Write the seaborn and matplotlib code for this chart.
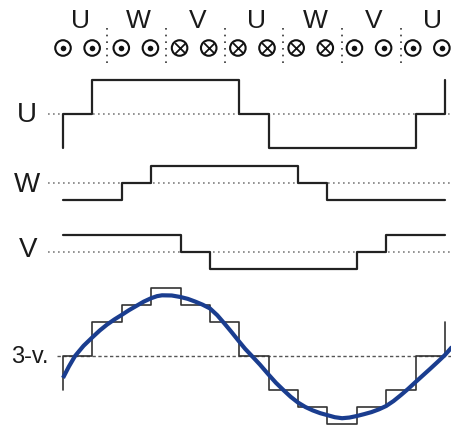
import numpy as np
import pandas as pd
import matplotlib
matplotlib.use("Agg")
import matplotlib.pyplot as plt
import seaborn as sns

sns.set_theme(style="white")
plt.rcParams['font.family'] = ['Liberation Sans', 'DejaVu Sans']

# ---- data ----
phase_labels = ["U", "W", "V", "U", "W", "V", "U"]
conductor_marks = ["dot", "dot", "dot", "dot", "cross", "cross", "cross",
                   "cross", "cross", "cross", "dot", "dot", "dot", "dot"]
u_levels = [0, 2, 2, 2, 2, 2, 0, -2, -2, -2, -2, -2, 0]
w_levels = [-1, -1, 0, 1, 1, 1, 1, 1, 0, -1, -1, -1, -1]
v_levels = [1, 1, 1, 1, 0, -1, -1, -1, -1, -1, 0, 1, 1]
u_start, u_end = -2, 2
row_labels = ["U", "W", "V", "3-v."]
sine_x = [0, 0.2, 0.41, 0.7, 1, 1.25, 1.5, 1.75, 2, 2.25, 2.5, 2.75, 3, 3.2,
          3.37, 3.7, 4, 4.25, 4.5, 4.75, 5, 5.25, 5.5, 5.75, 6, 6.2, 6.43,
          6.7, 7, 7.25, 7.5, 7.75, 8, 8.25, 8.5, 8.75, 9, 9.25, 9.5, 9.75,
          10, 10.25, 10.5, 10.75, 11, 11.25, 11.5, 11.75, 12, 12.25, 12.5,
          12.75, 13, 13.24]
sine_y = [-1.29, -0.62, 0, 0.6, 1.1, 1.5, 1.85, 2.15, 2.42, 2.7, 2.95, 3.2,
          3.4, 3.52, 3.57, 3.56, 3.47, 3.36, 3.2, 3.02, 2.8, 2.4, 1.9, 1.38,
          0.84, 0.42, 0, -0.5, -1.1, -1.58, -2.0, -2.4, -2.74, -3.0, -3.2,
          -3.36, -3.48, -3.6, -3.66, -3.62, -3.53, -3.42, -3.3, -3.14, -2.94,
          -2.65, -2.3, -1.93, -1.53, -1.14, -0.75, -0.35, 0.06, 0.53]

# ---- layout (axis units: 1 x-unit = one step, 1 y-unit = 17 px) ----
PX_STEP = 29.38
X0 = 63
W_PX, H_PX = 452, 425
def xu(px):
    return (px - X0) / PX_STEP
def yu(px):
    return -px / 17.0

base_u, base_w, base_v, base_s = yu(114), yu(183), yu(252), yu(356)

fig = plt.figure(figsize=(4.52, 4.25), dpi=100)
ax = fig.add_axes([0, 0, 1, 1])
ax.set_xlim(xu(0), xu(W_PX))
ax.set_ylim(yu(H_PX), 0)
ax.axis("off")

def stair(levels, base, start=None, end=None):
    n = len(levels)
    xs = list(range(n)) + [n]
    ys = list(levels) + [levels[-1]]
    if start is not None:
        xs = [0] + xs
        ys = [start] + ys
    if end is not None:
        xs = xs + [n]
        ys = ys + [end]
    return pd.DataFrame({"x": xs, "y": [base + v for v in ys]})

sum_levels = list(np.array(u_levels) + np.array(w_levels) + np.array(v_levels))

# baselines
for b in (base_u, base_w, base_v):
    ax.plot([xu(48), xu(W_PX)], [b, b], color="#808080", lw=1.2,
            linestyle=(0, (1, 2)), zorder=1)
ax.plot([xu(57), xu(W_PX)], [base_s, base_s], color="#555555", lw=1.0,
        linestyle=(0, (2.4, 1.8)), zorder=1)

# staircases
for df, lw, col in [
    (stair(u_levels, base_u, u_start, u_end), 1.6, "#222222"),
    (stair(w_levels, base_w), 1.6, "#222222"),
    (stair(v_levels, base_v), 1.6, "#222222"),
    (stair(sum_levels, base_s, u_start, u_end), 1.2, "#333333"),
]:
    sns.lineplot(data=df, x="x", y="y", ax=ax, estimator=None, sort=False,
                 drawstyle="steps-post", color=col, lw=lw, legend=False, zorder=2)

# sine
sdf = pd.DataFrame({"x": sine_x, "y": [base_s + v for v in sine_y]})
sns.lineplot(data=sdf, x="x", y="y", ax=ax, estimator=None, sort=False,
             color="#1a3d8f", lw=3.0, legend=False, zorder=3,
             solid_joinstyle="round", solid_capstyle="butt")

# row labels
txt_col = "#1a1a1a"
ax.text(xu(27), yu(122), row_labels[0], ha="center", va="baseline", fontsize=20, color=txt_col)
ax.text(xu(27.5), yu(192), row_labels[1], ha="center", va="baseline", fontsize=20, color=txt_col)
ax.text(xu(28.5), yu(257), row_labels[2], ha="center", va="baseline", fontsize=20, color=txt_col)
ax.text(xu(11), yu(363), row_labels[3], ha="left", va="baseline", fontsize=17, color=txt_col)

# top labels
for k, lab in enumerate(phase_labels):
    ax.text(2 * k + 0.58, yu(28), lab, ha="center", va="baseline", fontsize=19, color=txt_col)

# separators
for k in range(6):
    xs = 1.5 + 2 * k
    ax.plot([xs, xs], [yu(28), yu(64)], color="#333333", lw=1.2,
            linestyle=(0, (1, 3)), zorder=1)

# conductor symbols
cy = yu(48)
cx = [k * 0.992 for k in range(len(conductor_marks))]
cdf = pd.DataFrame({"x": cx, "y": [cy] * len(cx), "m": conductor_marks})
sns.scatterplot(data=cdf, x="x", y="y", ax=ax, s=125, marker="o",
                facecolor="none", edgecolor="#111111", linewidth=1.5, legend=False, zorder=4)
dots = cdf[cdf.m == "dot"]
sns.scatterplot(data=dots, x="x", y="y", ax=ax, s=16, marker="o",
                color="#111111", linewidth=0, legend=False, zorder=5)
crosses = cdf[cdf.m == "cross"]
sns.scatterplot(data=crosses, x="x", y="y", ax=ax, s=60, marker="x",
                color="#111111", linewidth=1.3, legend=False, zorder=5)

ax.set_xlabel("")
ax.set_ylabel("")
fig.savefig("out.png", dpi=100)
